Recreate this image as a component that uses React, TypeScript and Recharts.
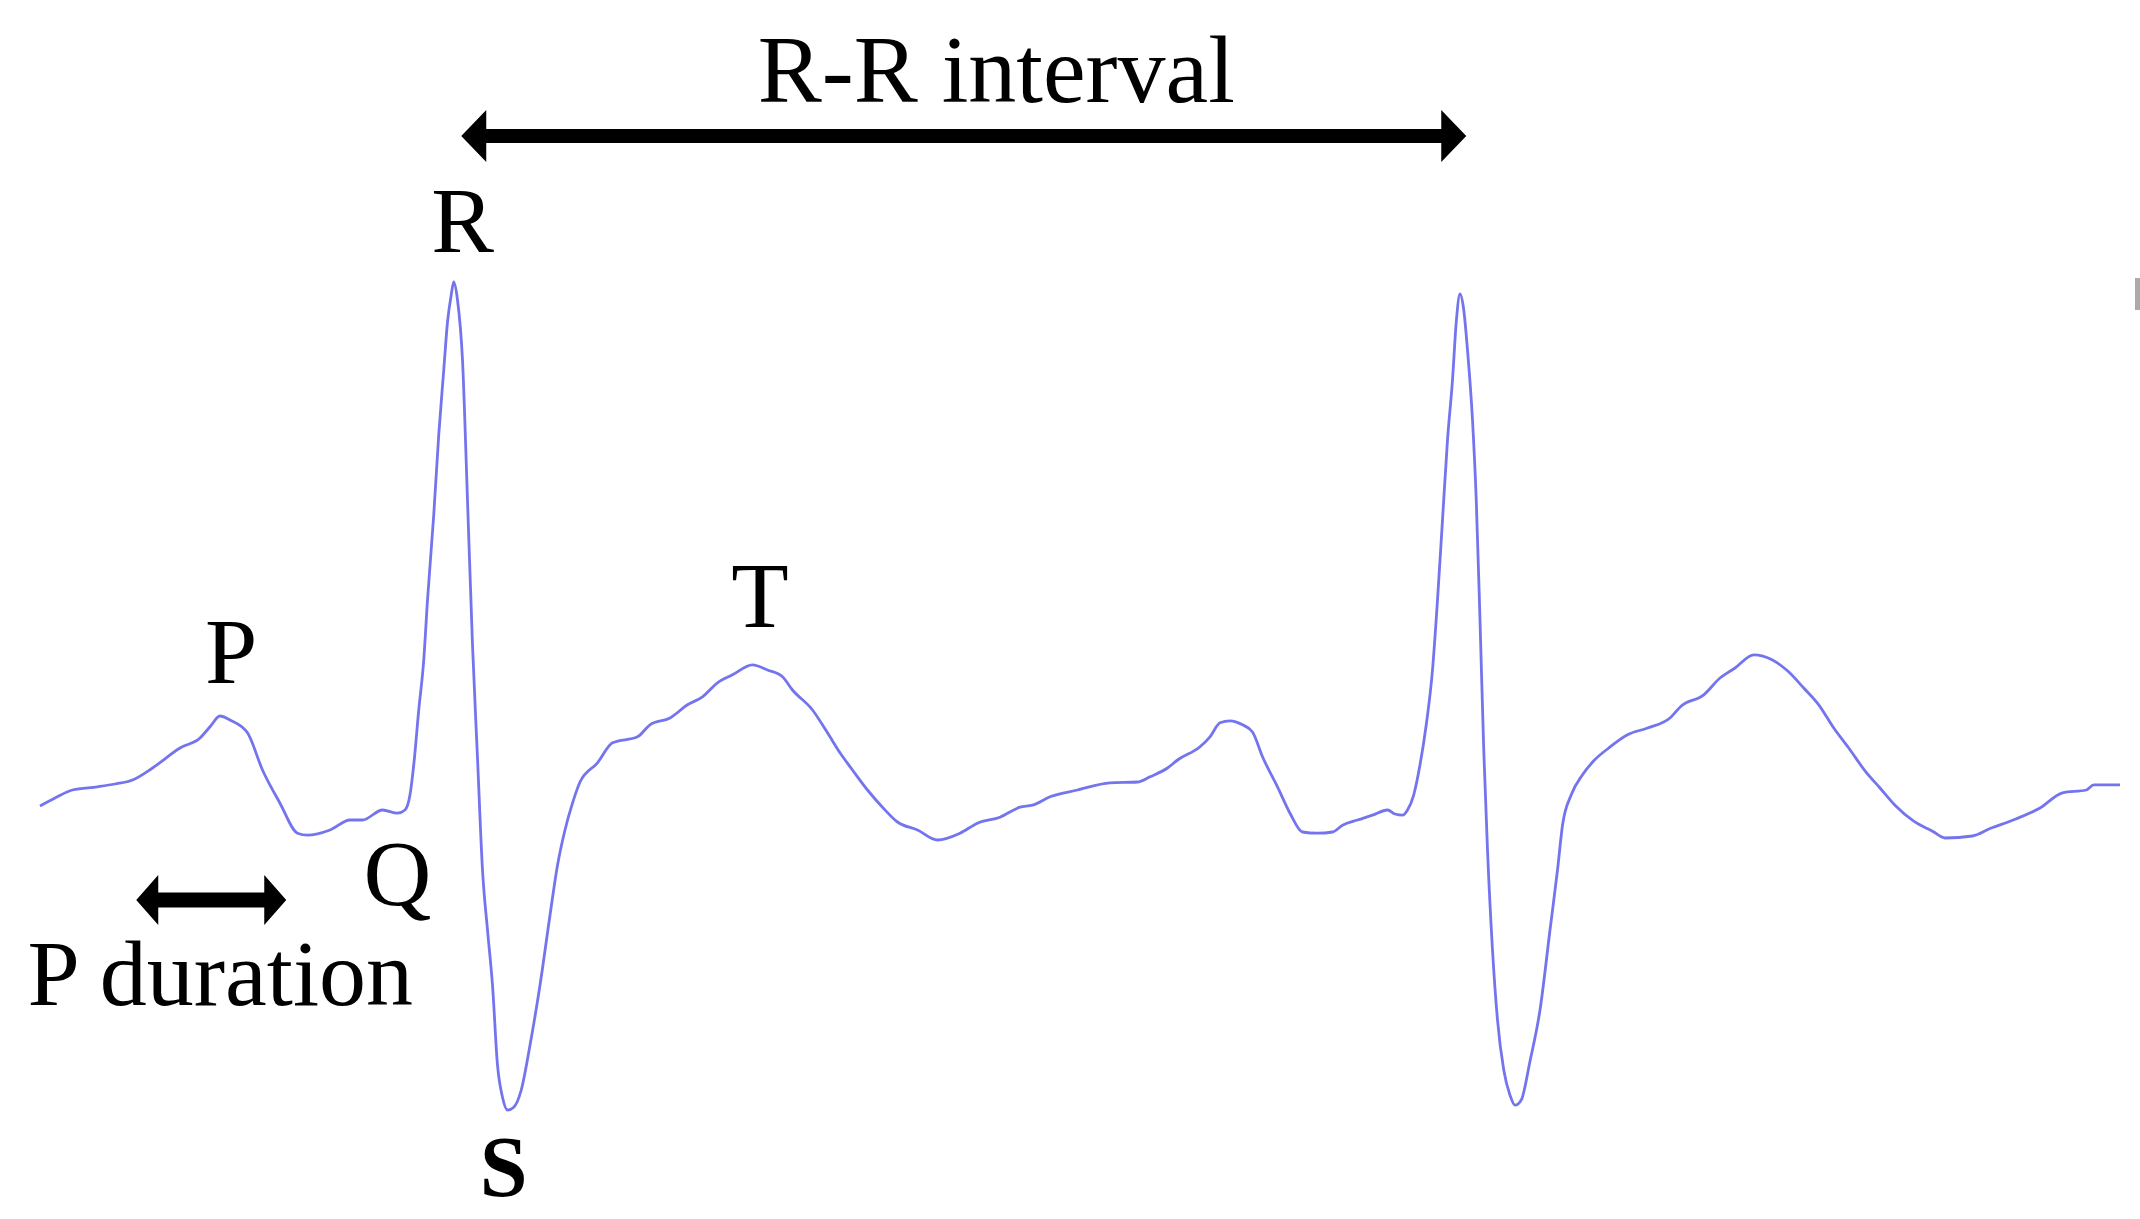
import React from "react";
import {
  LineChart,
  Line,
  XAxis,
  YAxis,
  ReferenceLine,
  ReferenceDot,
  ReferenceArea,
} from "recharts";

// ECG trace: time in seconds, amplitude in mV
const timeS = [
  0.032, 0.044, 0.058, 0.078, 0.092, 0.106, 0.122, 0.144, 0.16, 0.168,
  0.176, 0.184, 0.198, 0.21, 0.224, 0.238, 0.246, 0.264, 0.28, 0.29,
  0.306, 0.318, 0.324, 0.328, 0.331, 0.335, 0.339, 0.342, 0.347, 0.351,
  0.355, 0.358, 0.361, 0.363, 0.366, 0.37, 0.374, 0.378, 0.382, 0.386,
  0.39, 0.394, 0.398, 0.402, 0.406, 0.411, 0.417, 0.424, 0.432, 0.44,
  0.446, 0.452, 0.458, 0.464, 0.478, 0.49, 0.51, 0.52, 0.536, 0.55,
  0.562, 0.574, 0.586, 0.602, 0.614, 0.626, 0.634, 0.65, 0.662, 0.672,
  0.682, 0.694, 0.706, 0.718, 0.734, 0.75, 0.768, 0.782, 0.8, 0.816,
  0.826, 0.84, 0.862, 0.888, 0.91, 0.92, 0.934, 0.942, 0.96, 0.968,
  0.976, 0.984, 0.994, 1.002, 1.01, 1.022, 1.032, 1.042, 1.054, 1.066,
  1.074, 1.086, 1.098, 1.11, 1.116, 1.122, 1.126, 1.131, 1.136, 1.141,
  1.146, 1.15, 1.154, 1.158, 1.162, 1.165, 1.168, 1.171, 1.174, 1.178,
  1.181, 1.184, 1.187, 1.19, 1.194, 1.198, 1.203, 1.208, 1.212, 1.217,
  1.224, 1.232, 1.24, 1.246, 1.25, 1.257, 1.266, 1.275, 1.287, 1.302,
  1.318, 1.336, 1.345, 1.363, 1.376, 1.388, 1.403, 1.418, 1.43, 1.443,
  1.455, 1.467, 1.479, 1.492, 1.504, 1.516, 1.531, 1.546, 1.556, 1.578,
  1.593, 1.608, 1.632, 1.65, 1.669, 1.675, 1.696,
];

const leadMv = [
  -0.015, 0.005, 0.025, 0.033, 0.04, 0.05, 0.08, 0.13, 0.155, 0.183,
  0.21, 0.2, 0.168, 0.075, -0.008, -0.083, -0.088, -0.075, -0.05, -0.05,
  -0.025, -0.033, -0.025, 0.013, 0.088, 0.225, 0.35, 0.5, 0.713, 0.913,
  1.075, 1.195, 1.263, 1.295, 1.25, 1.1, 0.75, 0.388, 0.105, -0.175,
  -0.325, -0.463, -0.663, -0.743, -0.775, -0.768, -0.725, -0.613, -0.463, -0.288,
  -0.163, -0.075, -0.008, 0.045, 0.093, 0.143, 0.158, 0.188, 0.205, 0.238,
  0.258, 0.293, 0.313, 0.338, 0.325, 0.308, 0.275, 0.225, 0.168, 0.118,
  0.075, 0.025, -0.018, -0.055, -0.075, -0.1, -0.083, -0.058, -0.043, -0.018,
  -0.013, 0.008, 0.025, 0.043, 0.045, 0.058, 0.08, 0.1, 0.133, 0.158,
  0.193, 0.198, 0.188, 0.17, 0.108, 0.033, -0.033, -0.08, -0.083, -0.08,
  -0.063, -0.05, -0.038, -0.025, -0.035, -0.038, -0.025, 0.013, 0.088, 0.188,
  0.325, 0.5, 0.7, 0.9, 1.05, 1.195, 1.265, 1.225, 1.125, 0.95,
  0.75, 0.45, 0.125, -0.125, -0.375, -0.55, -0.675, -0.738, -0.763, -0.75,
  -0.653, -0.525, -0.325, -0.175, -0.063, 0.013, 0.063, 0.098, 0.13, 0.163,
  0.18, 0.205, 0.235, 0.263, 0.305, 0.33, 0.363, 0.35, 0.323, 0.28,
  0.238, 0.18, 0.13, 0.073, 0.03, -0.013, -0.053, -0.078, -0.095, -0.09,
  -0.07, -0.053, -0.02, 0.018, 0.025, 0.038, 0.038,
];

// wave labels: text, time, amplitude of the baseline
const waveLabels = ["P", "Q", "R", "T", "S"];
const waveLabelTimes = [0.185, 0.318, 0.37, 0.608, 0.403];
const waveLabelLevels = [0.293, -0.263, 1.37, 0.433, -0.99];

// double arrows: [from, to] in s, level in mV
const rrArrow = [0.369, 1.173];
const rrArrowLevel = 1.66;
const pArrow = [0.109, 0.229];
const pArrowLevel = -0.25;

const rrTitle = "R-R interval";
const pTitle = "P duration";

const ecgData = timeS.map((t, i) => ({ t, mv: leadMv[i] }));

const FONT = '"Liberation Serif", "Times New Roman", serif';

function doubleArrow(thick: number, headLen: number, headHalf: number) {
  return (p: any) => {
    const { x1, x2, y1 } = p;
    const y = y1;
    const s = thick / 2;
    const d = [
      `M${x1},${y}`,
      `L${x1 + headLen},${y - headHalf}`,
      `L${x1 + headLen},${y - s}`,
      `L${x2 - headLen},${y - s}`,
      `L${x2 - headLen},${y - headHalf}`,
      `L${x2},${y}`,
      `L${x2 - headLen},${y + headHalf}`,
      `L${x2 - headLen},${y + s}`,
      `L${x1 + headLen},${y + s}`,
      `L${x1 + headLen},${y + headHalf}`,
      "Z",
    ].join(" ");
    return <path d={d} fill="#000" stroke="none" />;
  };
}

function textShape(label: string, size: number, anchor: string, bold = false) {
  return (p: any) => (
    <text
      x={p.cx}
      y={p.cy}
      textAnchor={anchor}
      fontFamily={FONT}
      fontSize={size}
      fontWeight={bold ? "bold" : "normal"}
      fill="#000"
    >
      {label}
    </text>
  );
}

export default function App() {
  return (
    <div style={{ position: "absolute", left: 0, top: 0, background: "#fff" }}>
      <LineChart
        width={2140}
        height={1219}
        data={ecgData}
        margin={{ top: 0, right: 0, bottom: 0, left: 0 }}
      >
        <XAxis type="number" dataKey="t" domain={[0, 1.712]} hide />
        <YAxis type="number" domain={[-1.0475, 2]} hide />

        <ReferenceArea
          x1={1.708}
          x2={1.712}
          y1={1.225}
          y2={1.305}
          fill="#aaa"
          fillOpacity={1}
          stroke="none"
          ifOverflow="visible"
        />

        <Line
          type="monotone"
          dataKey="mv"
          stroke="#7474ee"
          strokeWidth={2.8}
          strokeLinejoin="round"
          dot={false}
          activeDot={false}
          isAnimationActive={false}
        />

        <ReferenceLine
          segment={[
            { x: rrArrow[0], y: rrArrowLevel },
            { x: rrArrow[1], y: rrArrowLevel },
          ]}
          shape={doubleArrow(14, 25, 26)}
          ifOverflow="visible"
        />
        <ReferenceLine
          segment={[
            { x: pArrow[0], y: pArrowLevel },
            { x: pArrow[1], y: pArrowLevel },
          ]}
          shape={doubleArrow(15, 22, 25)}
          ifOverflow="visible"
        />

        <ReferenceDot
          x={0.797}
          y={1.745}
          r={0}
          ifOverflow="visible"
          shape={textShape(rrTitle, 96, "middle")}
        />
        <ReferenceDot
          x={0.022}
          y={-0.513}
          r={0}
          ifOverflow="visible"
          shape={textShape(pTitle, 94, "start")}
        />

        {waveLabels.map((w, i) => (
          <ReferenceDot
            key={w}
            x={waveLabelTimes[i]}
            y={waveLabelLevels[i]}
            r={0}
            ifOverflow="visible"
            shape={textShape(w, w === "S" ? 86 : 94, "middle", w === "S")}
          />
        ))}
      </LineChart>
    </div>
  );
}
